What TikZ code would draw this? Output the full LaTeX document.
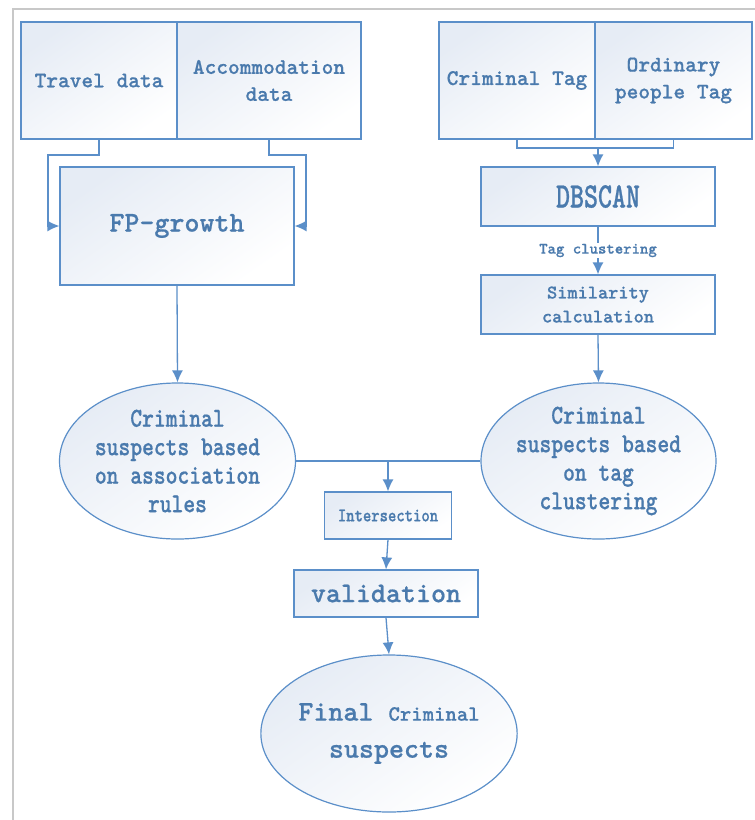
\documentclass[tikz,border=0pt]{standalone}
\usepackage{fontspec}
\usetikzlibrary{arrows.meta,shapes.geometric,calc}
\newfontfamily\mfont{lmmonolt10-bold.otf}[FakeBold=0.6]
\newfontfamily\nfont{lmmonolt10-bold.otf}[FakeStretch=0.82,FakeBold=0.6]
\newfontfamily\dfont{lmmonolt10-bold.otf}[FakeStretch=0.74,FakeBold=0.6]
\definecolor{lnc}{HTML}{5B8FC9}
\definecolor{txc}{HTML}{4A7AAD}
\definecolor{shd}{HTML}{E6ECF5}
\definecolor{frm}{HTML}{C8C8C8}
\tikzset{
  box/.style={draw=lnc, line width=1.2pt, rectangle, inner sep=0pt, align=center,
    text=txc, top color=shd, bottom color=white, shading angle=35},
  oval/.style={draw=lnc, line width=1.2pt, ellipse, inner sep=0pt, align=center,
    text=txc, top color=shd, bottom color=white, shading angle=35},
  conn/.style={draw=lnc, line width=1.3pt},
  arr/.style={conn, -{Latex[length=12pt,width=11pt]}},
}
\begin{document}
\begin{tikzpicture}[x=1pt,y=-1pt]
\useasboundingbox (0,0) rectangle (755,820);
\fill[white] (0,0) rectangle (755,820);
\draw[frm, line width=2.2pt] (13,820) -- (13,9) -- (755,9);

% top-left boxes
\node[box, minimum width=156pt, minimum height=117pt,
  font=\mfont\fontsize{22.3}{26}\selectfont] (trav) at (99,80.5) {Travel data};
\node[box, minimum width=184pt, minimum height=117pt,
  font=\mfont\fontsize{22.3}{27}\selectfont] (acc) at (269,80.5) {Accommodation\\data};
\node[box, minimum width=234pt, minimum height=118pt,
  font=\mfont\fontsize{28.6}{32}\selectfont] (fp) at (177,226) {FP-growth};

% top-right boxes
\node[box, minimum width=156pt, minimum height=117pt,
  font=\mfont\fontsize{22.3}{26}\selectfont] (crim) at (517,80.5) {Criminal Tag};
\node[box, minimum width=157pt, minimum height=117pt,
  font=\mfont\fontsize{22.3}{27}\selectfont] (ord) at (673.5,80.5) {Ordinary\\people Tag};
\node[box, minimum width=234pt, minimum height=59pt,
  font=\dfont\fontsize{36}{40}\selectfont] (db) at (598,196.5) {DBSCAN};
\node[box, minimum width=234pt, minimum height=59pt,
  font=\mfont\fontsize{19.4}{24}\selectfont] (sim) at (598,304.5) {Similarity\\calculation};

% ellipses
\node[oval, minimum width=236pt, minimum height=156pt,
  font=\nfont\fontsize{27.4}{28.5}\selectfont] (e1) at (177.5,461)
  {Criminal\\suspects based\\on association\\rules};
\node[oval, minimum width=235pt, minimum height=156pt,
  font=\nfont\fontsize{27.4}{28.5}\selectfont] (e2) at (598.5,461)
  {Criminal\\suspects based\\on tag\\clustering};

\node[box, minimum width=127pt, minimum height=47pt,
  font=\nfont\fontsize{19.4}{22}\selectfont] (inter) at (388,515.5) {Intersection};
\node[box, minimum width=184pt, minimum height=47pt,
  font=\mfont\fontsize{28.6}{32}\selectfont] (val) at (386,593.5) {validation};
\node[oval, minimum width=234pt, minimum height=157pt,
  font=\mfont\fontsize{28.6}{37}\selectfont] (fin) at (389,733.5)
  {Final {\fontsize{21.7}{37}\selectfont Criminal}\\suspects};

% connectors left
\coordinate (tl) at (48,155);
\coordinate (tr) at (306,155);
\draw[arr] (trav.south) |- (tl) |- (fp.west);
\draw[arr] (acc.south) |- (tr) |- (fp.east);
\draw[arr] (fp.south) -- (e1.north);

% connectors right
\coordinate (br) at (598,148);
\draw[conn] (crim.south) |- (br) -| (ord.south);
\draw[arr] (br) -- (db.north);
\draw[arr] (db.south) -- node[fill=white, inner sep=1pt, text=txc,
  font=\mfont\fontsize{16}{18}\selectfont] {Tag clustering} (sim.north);
\draw[arr] (sim.south) -- (e2.north);

% bottom
\coordinate (j) at (388,461);
\draw[conn] (e1.east) -- (e2.west);
\draw[arr] (j) -- (inter.north);
\draw[arr] (inter.south) -- (val.north);
\draw[arr] (val.south) -- (fin.north);
\end{tikzpicture}
\end{document}
